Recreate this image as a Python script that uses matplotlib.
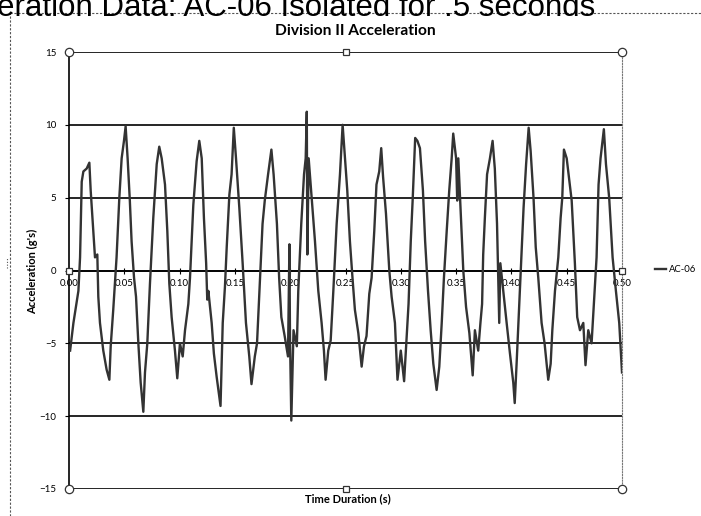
import matplotlib
matplotlib.use("Agg")
import matplotlib.pyplot as plt
from matplotlib.lines import Line2D

# Datos (tiempo en s, aceleracion en g)
time_s = [
    0.001, 0.004, 0.0085, 0.010, 0.0115, 0.013, 0.016, 0.0184, 0.0196, 0.022,
    0.0235, 0.0256, 0.0265, 0.028, 0.031, 0.034, 0.0365, 0.0377, 0.040, 0.043,
    0.0455, 0.0476, 0.0497, 0.0512, 0.053, 0.055, 0.0566, 0.0588, 0.0606, 0.0627,
    0.0648, 0.0672, 0.0687, 0.0708, 0.0732, 0.0762, 0.0793, 0.0816, 0.0838, 0.0868,
    0.0889, 0.0907, 0.0928, 0.0958, 0.0979, 0.1003, 0.1028, 0.1049, 0.1079, 0.1094,
    0.1124, 0.1154, 0.1178, 0.120, 0.122, 0.124, 0.125, 0.126, 0.129, 0.131,
    0.1335, 0.137, 0.139, 0.141, 0.1426, 0.145, 0.147, 0.149, 0.151, 0.154,
    0.157, 0.160, 0.163, 0.165, 0.168, 0.170, 0.1727, 0.175, 0.177, 0.180,
    0.183, 0.185, 0.188, 0.190, 0.192, 0.195, 0.198, 0.1993, 0.1998, 0.201,
    0.203, 0.206, 0.2073, 0.210, 0.2125, 0.214, 0.215, 0.2155, 0.2167, 0.2194,
    0.2224, 0.2254, 0.2284, 0.2305, 0.232, 0.2344, 0.2366, 0.239, 0.242, 0.245,
    0.2474, 0.2495, 0.2516, 0.254, 0.2565, 0.2585, 0.2616, 0.2646, 0.2667, 0.269,
    0.2715, 0.2736, 0.276, 0.278, 0.2805, 0.2823, 0.284, 0.2866, 0.2896, 0.2917,
    0.2947, 0.297, 0.300, 0.303, 0.3053, 0.307, 0.309, 0.3107, 0.313, 0.315,
    0.3173, 0.320, 0.322, 0.3246, 0.327, 0.3294, 0.3324, 0.3348, 0.337, 0.339,
    0.3415, 0.3438, 0.346, 0.3474, 0.350, 0.351, 0.352, 0.354, 0.3565, 0.359,
    0.362, 0.365, 0.367, 0.370, 0.372, 0.3735, 0.3745, 0.376, 0.378, 0.3806,
    0.383, 0.385, 0.387, 0.389, 0.390, 0.3926, 0.3957, 0.3987, 0.4017, 0.403,
    0.4047, 0.407, 0.409, 0.411, 0.4133, 0.4156, 0.4174, 0.420, 0.422, 0.4243,
    0.4273, 0.430, 0.4333, 0.4355, 0.437, 0.4394, 0.4424, 0.4445, 0.446, 0.4475,
    0.450, 0.452, 0.4545, 0.4574, 0.4595, 0.462, 0.465, 0.467, 0.4695, 0.4725,
    0.4746, 0.477, 0.4788, 0.4806, 0.4836, 0.4855, 0.4884, 0.4915, 0.4945, 0.4975,
    0.500,
]
accel_g = [
    -5.5, -3.6, -1.4, 0.9, 6.1, 6.8, 7.0, 7.4, 5.5, 2.7,
    0.9, 1.1, -1.8, -3.6, -5.5, -6.8, -7.5, -5.2, -2.7, 0.9,
    5.0, 7.7, 8.9, 9.9, 7.7, 4.8, 2.0, -0.5, -1.8, -5.0,
    -7.7, -9.7, -7.0, -5.0, -0.9, 3.6, 7.3, 8.5, 7.7, 5.9,
    2.7, -0.9, -3.2, -5.5, -7.4, -5.0, -5.9, -4.1, -2.3, -0.5,
    4.5, 7.5, 8.9, 7.7, 3.6, 0.5, -2.0, -1.4, -3.6, -5.7,
    -7.3, -9.3, -3.6, -1.1, 1.6, 5.2, 6.6, 9.8, 7.7, 4.3,
    0.5, -3.6, -5.9, -7.8, -5.9, -5.0, -0.5, 3.2, 4.8, 6.6,
    8.3, 6.6, 3.2, -0.5, -3.2, -4.5, -5.9, 1.8, -4.5, -10.3,
    -4.1, -5.2, -1.4, 3.2, 6.6, 7.7, 10.9, 1.1, 7.7, 5.0,
    2.0, -1.4, -3.6, -5.5, -7.5, -5.5, -4.8, -1.4, 3.2, 6.6,
    10.0, 7.7, 5.5, 2.0, -0.7, -2.7, -4.3, -6.6, -5.2, -4.5,
    -1.6, -0.5, 2.7, 5.9, 6.8, 8.4, 6.4, 3.9, 0.0, -1.8,
    -3.6, -7.5, -5.5, -7.6, -4.5, -2.3, 2.0, 4.8, 9.1, 8.9,
    8.4, 5.5, 2.0, -1.4, -4.1, -6.4, -8.2, -6.6, -3.6, -0.5,
    2.7, 5.5, 7.7, 9.4, 7.7, 4.8, 7.7, 4.3, 0.0, -2.5,
    -4.3, -7.2, -4.1, -5.5, -3.6, -2.3, 1.1, 3.6, 6.6, 7.7,
    8.9, 7.0, 3.2, -3.6, 0.5, -1.4, -3.6, -5.7, -7.7, -9.1,
    -6.4, -2.5, 0.9, 4.3, 7.3, 9.8, 8.2, 5.0, 1.6, -0.5,
    -3.6, -5.0, -7.5, -6.4, -4.1, -1.4, 0.9, 3.6, 5.0, 8.3,
    7.7, 6.4, 4.8, 0.5, -3.2, -4.1, -3.6, -6.5, -4.1, -5.0,
    -2.3, 0.9, 5.9, 7.7, 9.7, 7.3, 5.0, 0.9, -1.4, -3.6,
    -7.0,
]
x_ticks = [0.00, 0.05, 0.10, 0.15, 0.20, 0.25, 0.30, 0.35, 0.40, 0.45, 0.50]
y_ticks = [-15, -10, -5, 0, 5, 10, 15]
serie = "AC-06"

W, H = 701, 516
fig = plt.figure(figsize=(W / 100, H / 100), dpi=100)
ax = fig.add_axes([69 / W, 27 / H, 553 / W, 437 / H])

ax.plot(time_s, accel_g, color="#333333", lw=1.7, label=serie, zorder=3)

ax.set_xlim(0, 0.5)
ax.set_ylim(-15, 15)
ax.set_xticks(x_ticks)
ax.set_xticklabels([f"{v:.2f}" for v in x_ticks])
ax.set_yticks(y_ticks)
ax.grid(axis="y", color="black", lw=1.2, zorder=1)

ax.spines["bottom"].set_position(("data", 0))
ax.spines["bottom"].set_linewidth(1.2)
ax.spines["left"].set_linewidth(1.2)
ax.spines["top"].set_visible(False)
ax.spines["right"].set_linestyle((0, (1, 1.5)))
ax.spines["right"].set_color("#777777")
ax.spines["right"].set_linewidth(0.8)

ax.tick_params(axis="x", direction="inout", length=4, width=0.8, pad=4, labelsize=7)
ax.tick_params(axis="y", direction="out", length=3, width=0.8, pad=6, labelsize=7)
for lbl in ax.get_xticklabels() + ax.get_yticklabels():
    lbl.set_family("Lato")

# Marcas de seleccion de Excel
ax.plot([0, 1, 0, 1], [1, 1, 0, 0], "o", transform=ax.transAxes, mfc="white",
        mec="#333333", ms=6, mew=0.9, clip_on=False, zorder=6)
ax.plot([0.5, 0.5, 0, 1], [1, 0, 0.5, 0.5], "s", transform=ax.transAxes, mfc="white",
        mec="#333333", ms=5, mew=0.9, clip_on=False, zorder=6)

fig.text(355 / W, 1 - 31 / H, "Division II Acceleration", ha="center", va="center",
         fontsize=11.2, fontweight="bold", family="Lato")
fig.text(33 / W, 1 - 271 / H, "Acceleration (g's)", rotation=90, ha="center",
         va="center", fontsize=8, fontweight="bold", family="Lato")
fig.text(348 / W, 1 - 499 / H, "Time Duration (s)", ha="center", va="center",
         fontsize=8, fontweight="bold", family="Lato")

ax.legend(loc="center left", bbox_to_anchor=(655 / W, 1 - 270 / H),
          bbox_transform=fig.transFigure, frameon=False, handlelength=1.2,
          handletextpad=0.3, borderpad=0, borderaxespad=0,
          prop={"family": "Lato", "size": 6.8})

# Titulo cortado del documento escaneado y marco punteado
fig.text(-3 / W, 1 - 16 / H, "eration Data: AC-06 Isolated for .5 seconds",
         ha="left", va="baseline", fontsize=22.5, family="Liberation Sans")
fig.add_artist(Line2D([10 / W, 1], [1 - 13 / H, 1 - 13 / H], color="#555555",
                      lw=0.8, ls=(0, (2, 1.5))))
fig.add_artist(Line2D([10 / W, 10 / W], [0, 1 - 13 / H], color="#555555",
                      lw=0.8, ls=(0, (2, 1.5))))
fig.add_artist(Line2D([7 / W, 7 / W], [1 - 268 / H, 1 - 258 / H], color="#555555",
                      lw=0.8, ls=(0, (1, 1.5))))

fig.savefig("out.png", dpi=100)
